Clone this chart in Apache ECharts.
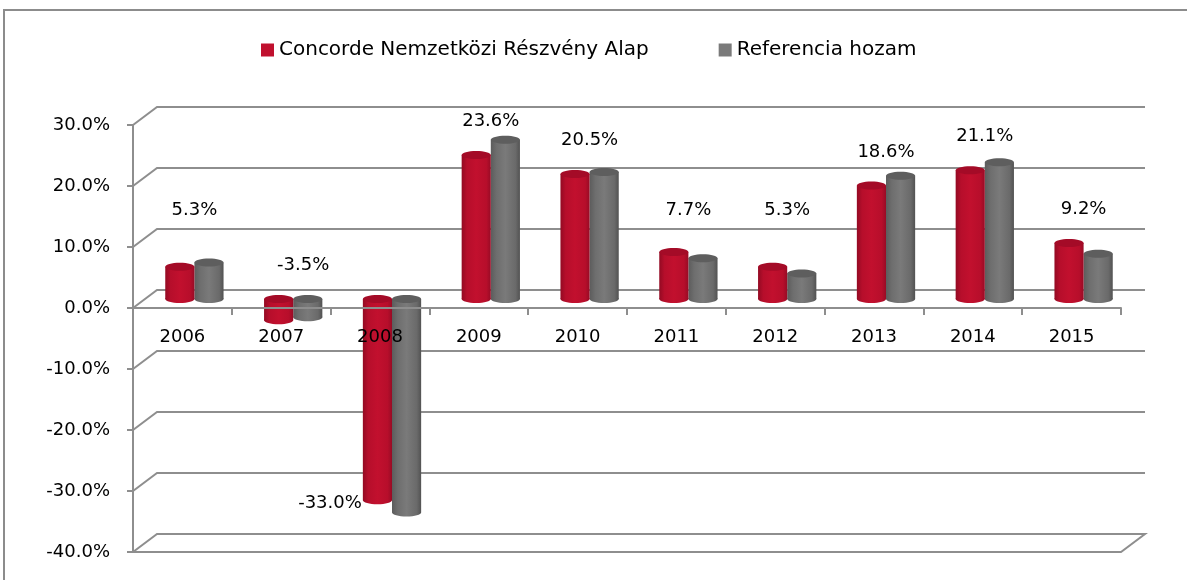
<!DOCTYPE html>
<html>
<head>
<meta charset="utf-8">
<script src="https://cdn.jsdelivr.net/npm/echarts@6/dist/echarts.min.js"></script>
<style>
html,body{margin:0;padding:0;background:#fff;}
#chart{width:1187px;height:580px;}
</style>
</head>
<body>
<div id="chart"></div>
<script>
const categories = ['2006','2007','2008','2009','2010','2011','2012','2013','2014','2015'];
const fundName = 'Concorde Nemzetközi Részvény Alap';
const refName = 'Referencia hozam';
const fundValues = [5.3, -3.5, -33.0, 23.6, 20.5, 7.7, 5.3, 18.6, 21.1, 9.2];
const refValues = [6.0, -3.0, -35.0, 26.1, 20.8, 6.7, 4.2, 20.2, 22.4, 7.4];
const yTicks = [-40, -30, -20, -10, 0, 10, 20, 30];

const FONT = 'DejaVu Sans';
const DX = 24, DY = 18;
const GRID_COLOR = '#8e8e8e';
const GRID = {left: 133, top: 125, width: 988, height: 427};
const Y_MIN = yTicks[0], Y_MAX = yTicks[yTicks.length - 1];
// place the category axis on the zero line
const zeroOffset = -GRID.height * (0 - Y_MIN) / (Y_MAX - Y_MIN);

const chart = echarts.init(document.getElementById('chart'), null, {renderer: 'canvas'});

const redGrad = () => new echarts.graphic.LinearGradient(0, 0, 1, 0, [
  {offset: 0, color: '#930a23'},
  {offset: 0.18, color: '#b60e2b'},
  {offset: 0.5, color: '#c2102e'},
  {offset: 0.85, color: '#b70e2b'},
  {offset: 1, color: '#980b25'}
]);
const grayGrad = () => new echarts.graphic.LinearGradient(0, 0, 1, 0, [
  {offset: 0, color: '#5c5c5c'},
  {offset: 0.2, color: '#6e6e6e'},
  {offset: 0.5, color: '#7a7a7a'},
  {offset: 0.85, color: '#6a6a6a'},
  {offset: 1, color: '#525252'}
]);

function cylinderItem(params, api, side, gradFn, topColor, withLabel) {
  const i = api.value(0), v = api.value(1);
  const p0 = api.coord([i, 0]);
  const p1 = api.coord([i, v]);
  const band = api.size([1, 0])[0];
  const bw = band * 0.295;
  const cx = p0[0] + DX / 2 + side * bw / 2;
  const ya = p0[1] - DY / 2, yb = p1[1] - DY / 2;
  const top = Math.min(ya, yb), bot = Math.max(ya, yb);
  const rx = bw / 2, ry = 4;
  const children = [
    {type: 'rect', shape: {x: cx - rx, y: top, width: bw, height: bot - top}, style: {fill: gradFn()}},
    {type: 'ellipse', shape: {cx: cx, cy: bot, rx: rx, ry: ry}, style: {fill: gradFn()}},
    {type: 'ellipse', shape: {cx: cx, cy: top, rx: rx, ry: ry}, style: {fill: topColor}}
  ];
  if (withLabel) {
    const txt = v.toFixed(1) + '%';
    let tx, ty, align = 'center';
    if (v >= 0) {
      tx = p0[0] + DX / 2;
      ty = api.coord([i, Math.max(v + 5.5, 14.5)])[1] - DY / 2;
    } else if (v > -10) {
      tx = p0[0] + DX / 2 + 10;
      ty = api.coord([i, 5.6])[1] - DY / 2;
    } else {
      tx = cx - rx - 1;
      ty = bot + 3;
      align = 'right';
    }
    children.push({
      type: 'text', z2: 20,
      style: {x: tx, y: ty, text: txt, align: align, verticalAlign: 'middle',
        fill: '#000', font: '18px "' + FONT + '"'}
    });
  }
  return {type: 'group', children: children};
}

const option = {
  animation: false,
  backgroundColor: '#fff',
  textStyle: {fontFamily: FONT},
  graphic: [{
    type: 'rect', z: -10,
    shape: {x: 4, y: 10, width: 1300, height: 700},
    style: {fill: 'none', stroke: '#8c8c8c', lineWidth: 2}
  }],
  legend: {
    top: 35, left: 256,
    itemWidth: 13, itemHeight: 13, itemGap: 70,
    textStyle: {fontFamily: FONT, fontSize: 20, color: '#000'},
    data: [
      {name: fundName, icon: 'rect', itemStyle: {color: '#c0102e'}},
      {name: refName, icon: 'rect', itemStyle: {color: '#7a7a7a'}}
    ]
  },
  grid: Object.assign({containLabel: false}, GRID),
  xAxis: {
    type: 'category', data: categories, z: 10,
    position: 'bottom', offset: zeroOffset,
    axisLine: {onZero: false, lineStyle: {color: GRID_COLOR, width: 2}},
    axisTick: {show: true, interval: 0, length: 7, lineStyle: {color: GRID_COLOR, width: 2}},
    axisLabel: {color: '#000', fontSize: 18, fontFamily: FONT, margin: 20, interval: 0},
    splitLine: {show: false}
  },
  yAxis: {
    type: 'value', min: Y_MIN, max: Y_MAX, interval: 10,
    axisLine: {show: true, lineStyle: {color: GRID_COLOR, width: 2}},
    axisTick: {show: true, length: 6, lineStyle: {color: GRID_COLOR, width: 2}},
    axisLabel: {color: '#000', fontSize: 18, fontFamily: FONT, margin: 23,
      padding: [8, 0, 0, 0],
      formatter: v => v.toFixed(1) + '%'},
    splitLine: {show: false}
  },
  series: [
    {
      type: 'custom', name: 'walls', z: 1, silent: true, clip: false,
      encode: {x: 0, y: 1},
      data: yTicks.map(v => [0, v]),
      renderItem: function (params, api) {
        const cs = params.coordSys;
        const v = api.value(1);
        const y = api.coord([0, v])[1];
        const x0 = cs.x, x1 = cs.x + cs.width;
        let pts;
        if (v === yTicks[0]) {
          pts = [[x0, y], [x0 + DX, y - DY], [x1 + DX, y - DY], [x1, y], [x0, y]];
        } else {
          pts = [[x0, y], [x0 + DX, y - DY], [x1 + DX, y - DY]];
        }
        return {type: 'polyline', shape: {points: pts},
          style: {stroke: GRID_COLOR, lineWidth: 2, fill: null}};
      }
    },
    {
      type: 'custom', name: fundName, z: 3, clip: false,
      encode: {x: 0, y: 1},
      itemStyle: {color: '#c0102e'},
      data: fundValues.map((v, i) => [i, v]),
      renderItem: (params, api) => cylinderItem(params, api, -1, redGrad, '#a40b27', true)
    },
    {
      type: 'custom', name: refName, z: 2, clip: false,
      encode: {x: 0, y: 1},
      itemStyle: {color: '#7a7a7a'},
      data: refValues.map((v, i) => [i, v]),
      renderItem: (params, api) => cylinderItem(params, api, 1, grayGrad, '#5e5e5e', false)
    }
  ]
};
chart.setOption(option);
</script>
</body>
</html>
